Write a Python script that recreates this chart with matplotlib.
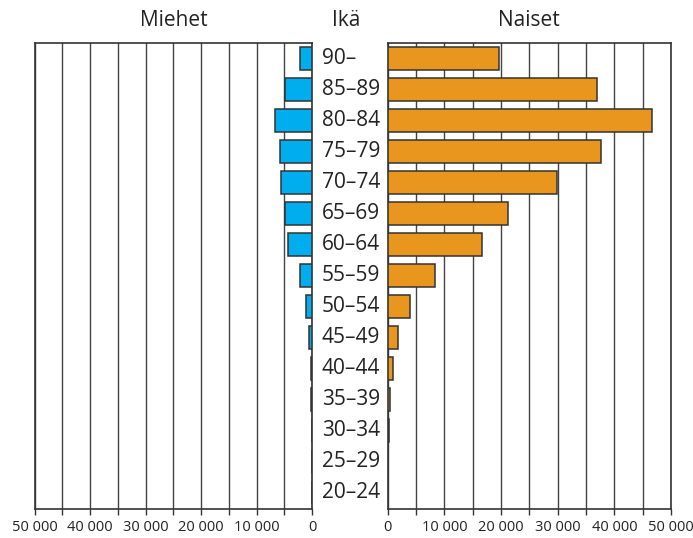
import numpy as np
import matplotlib
matplotlib.use("Agg")
import matplotlib.pyplot as plt
from matplotlib.ticker import FixedLocator, FuncFormatter

plt.rcParams['font.family'] = ['Open Sans', 'DejaVu Sans']

# Data
ages = ['90–', '85–89', '80–84', '75–79', '70–74', '65–69', '60–64', '55–59',
        '50–54', '45–49', '40–44', '35–39', '30–34', '25–29', '20–24']
men = [2200, 4900, 6700, 5800, 5600, 4900, 4300, 2200,
       1000, 500, 250, 100, 60, 40, 30]
women = [19600, 37000, 46700, 37700, 29800, 21200, 16600, 8400,
         4000, 1900, 900, 400, 150, 100, 60]

blue = '#00aeef'
orange = '#e8961e'
edge = '#333333'
text_col = '#222222'

fig = plt.figure(figsize=(6.93, 5.38), dpi=100)
ax_m = fig.add_axes([0.0501, 0.0533, 0.4001, 0.8673])
ax_w = fig.add_axes([0.5595, 0.0533, 0.4088, 0.8673])

y = np.arange(len(ages))
ticks = np.arange(0, 50001, 5000)


def fmt(v, pos):
    if int(v) % 10000 != 0:
        return ''
    return '{:,}'.format(int(v)).replace(',', ' ')


for ax, vals, col in ((ax_m, men, blue), (ax_w, women, orange)):
    ax.barh(y, vals, height=0.75, color=col, edgecolor=edge, linewidth=1.1, zorder=3)
    ax.set_ylim(14.55, -0.5)
    ax.set_yticks([])
    ax.xaxis.set_major_locator(FixedLocator(ticks))
    ax.xaxis.set_major_formatter(FuncFormatter(fmt))
    ax.grid(axis='x', color='#444444', linewidth=1.0, zorder=0)
    ax.set_axisbelow(True)
    for s in ax.spines.values():
        s.set_color(edge)
        s.set_linewidth(1.2)
    ax.tick_params(axis='x', length=4, width=1, color=edge, labelsize=10.5,
                   labelcolor=text_col, pad=4)

ax_m.set_xlim(50000, 0)
ax_w.set_xlim(0, 50000)

# age labels between the panels
for i, a in enumerate(ages):
    fig.text(322 / 693, 1 - (58.3 + 31 * i) / 538, a, fontsize=15,
             color=text_col, ha='left', va='center')

# titles
fig.text(174 / 693, 1 - 20 / 538, 'Miehet', fontsize=15, color=text_col,
         ha='center', va='center')
fig.text(346 / 693, 1 - 20 / 538, 'Ikä', fontsize=15, color=text_col,
         ha='center', va='center')
fig.text(529 / 693, 1 - 20 / 538, 'Naiset', fontsize=15, color=text_col,
         ha='center', va='center')

fig.savefig('out.png', dpi=100)
